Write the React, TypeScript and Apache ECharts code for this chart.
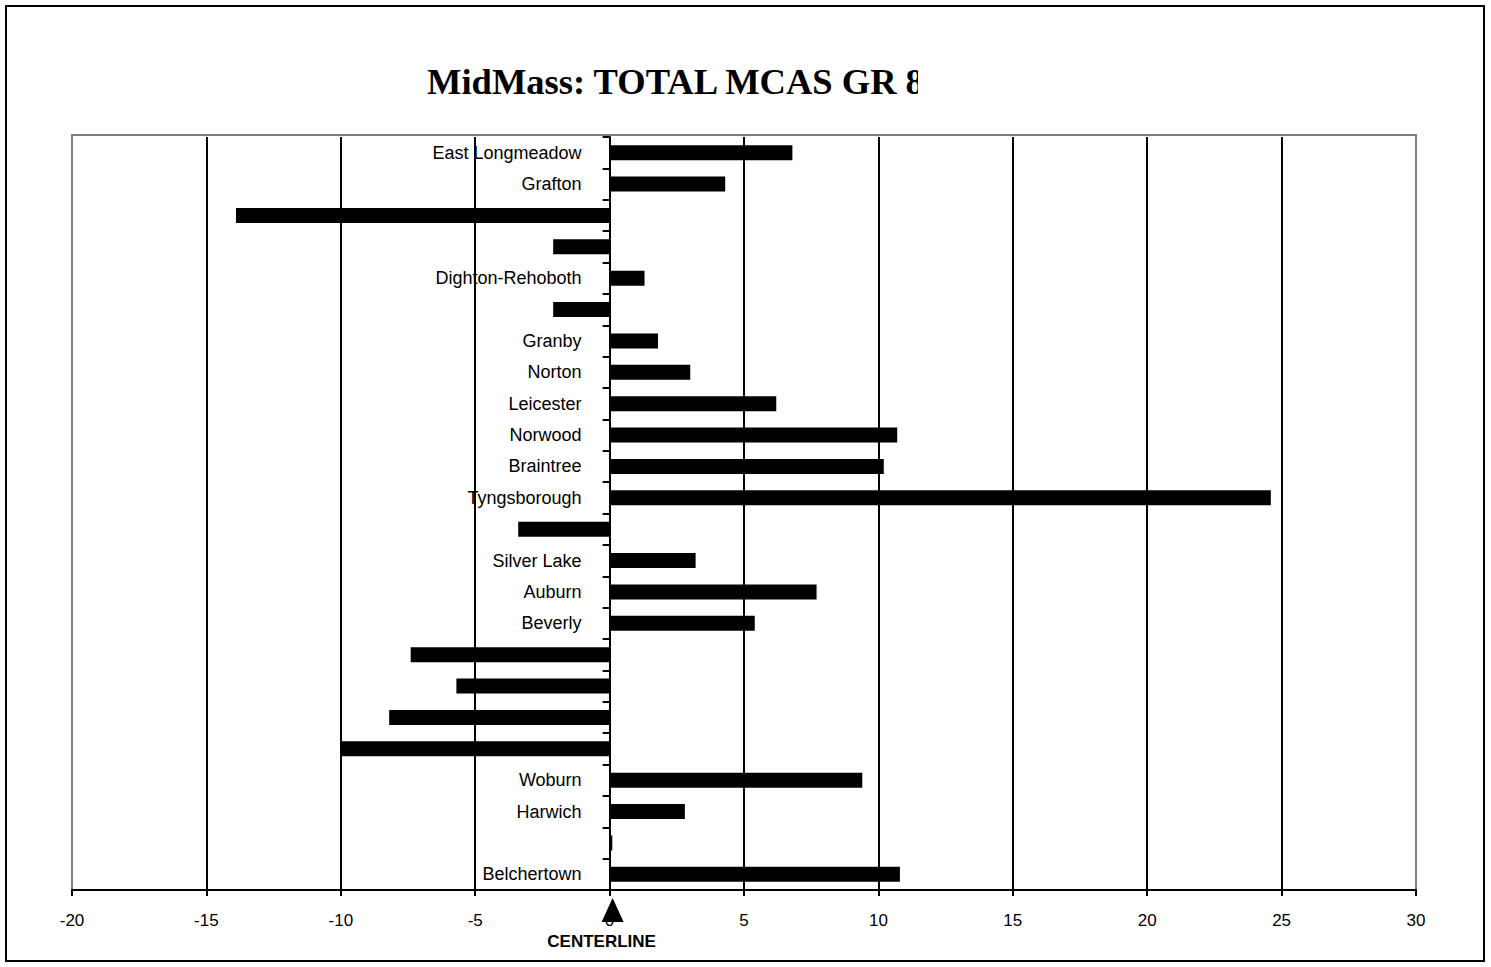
import React, { useEffect, useRef } from "react";
import * as echarts from "echarts";

const categories: string[] = [
  "East Longmeadow", "Grafton", "", "", "Dighton-Rehoboth", "", "Granby", "Norton",
  "Leicester", "Norwood", "Braintree", "Tyngsborough", "", "Silver Lake", "Auburn", "Beverly",
  "", "", "", "", "Woburn", "Harwich", "", "Belchertown",
];
const values: number[] = [
  6.8, 4.3, -13.9, -2.1, 1.3, -2.1, 1.8, 3.0,
  6.2, 10.7, 10.2, 24.6, -3.4, 3.2, 7.7, 5.4,
  -7.4, -5.7, -8.2, -10.0, 9.4, 2.8, 0.1, 10.8,
];
const xMin = -20;
const xMax = 30;
const xInterval = 5;
const titleText = "MidMass: TOTAL MCAS GR 8";
const centerText = "CENTERLINE";

export default function App() {
  const ref = useRef<HTMLDivElement>(null);
  useEffect(() => {
    if (!ref.current) return;
    const chart = echarts.init(ref.current, undefined, { renderer: "svg" });
    const gridLeft = 72;
    const option: any = {
      animation: false,
      backgroundColor: "#fff",
      grid: {
        left: gridLeft, right: 75, top: 137, bottom: 77,
        containLabel: false, outerBoundsMode: "none", show: false,
      },
      xAxis: {
        type: "value", min: xMin, max: xMax, interval: xInterval,
        axisLine: { show: true, onZero: false, lineStyle: { color: "#000", width: 2 } },
        axisTick: { show: true, length: 6, lineStyle: { color: "#000", width: 2 } },
        axisLabel: {
          color: "#000", fontSize: 17, margin: 22,
          fontFamily: '"Liberation Sans", Arial, sans-serif',
        },
        splitLine: {
          show: true, showMinLine: false, showMaxLine: false,
          lineStyle: { color: "#000", width: 2 },
        },
      },
      yAxis: {
        type: "category", data: categories, inverse: true,
        axisLine: { show: true, onZero: true, lineStyle: { color: "#000", width: 2 } },
        axisTick: { show: true, length: 7, lineStyle: { color: "#000", width: 2 } },
        axisLabel: {
          color: "#000", fontSize: 18, margin: 28,
          fontFamily: '"Liberation Sans", Arial, sans-serif',
        },
        splitLine: { show: false },
      },
      series: [
        {
          type: "bar", data: values, barWidth: 15,
          itemStyle: { color: "#000" }, z: 5,
        },
      ],
    };
    chart.setOption(option);
    const x0 = chart.convertToPixel({ xAxisIndex: 0 } as any, 0) as number;
    const xL = chart.convertToPixel({ xAxisIndex: 0 } as any, xMin) as number;
    const xR = chart.convertToPixel({ xAxisIndex: 0 } as any, xMax) as number;
    chart.setOption({
      yAxis: { axisLabel: { margin: -(x0 - gridLeft - 28) } },
      graphic: [
        {
          type: "rect", z: 100, silent: true,
          shape: { x: 6, y: 6, width: 1478, height: 955 },
          style: { fill: "none", stroke: "#000", lineWidth: 2 },
        },
        {
          type: "rect", z: 0, silent: true,
          shape: { x: xL, y: 135, width: xR - xL, height: 890 - 135 },
          style: { fill: "none", stroke: "#808080", lineWidth: 2 },
        },
        {
          type: "text", z: 100, x: 427, y: 81,
          style: {
            text: titleText, fill: "#000", align: "left", verticalAlign: "middle",
            font: 'bold 36.5px "Liberation Serif", "Times New Roman", serif',
          },
        },
        {
          type: "rect", z: 101,
          shape: { x: 918, y: 55, width: 50, height: 55 },
          style: { fill: "#fff" },
        },
        {
          type: "polygon", z: 100,
          shape: { points: [[x0 + 3, 898], [x0 - 8, 922], [x0 + 14, 922]] },
          style: { fill: "#000" },
        },
        {
          type: "text", z: 100, x: x0 - 8, y: 941,
          style: {
            text: centerText, fill: "#000", align: "center", verticalAlign: "middle",
            font: 'bold 17px "Liberation Sans", Arial, sans-serif',
          },
        },
      ],
    });
    return () => chart.dispose();
  }, []);
  return (
    <div
      ref={ref}
      style={{ position: "fixed", left: 0, top: 0, width: 1491, height: 967, background: "#fff" }}
    />
  );
}
